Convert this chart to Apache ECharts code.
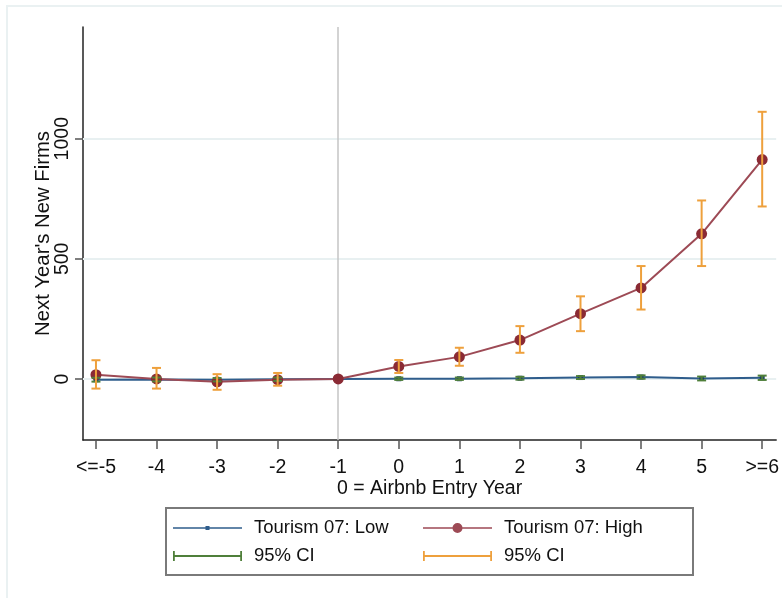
<!DOCTYPE html>
<html>
<head>
<meta charset="utf-8">
<script src="https://cdn.jsdelivr.net/npm/echarts@6/dist/echarts.min.js"></script>
<style>html,body{margin:0;padding:0;background:#fff;}#c{width:782px;height:598px;}</style>
</head>
<body>
<div id="c"></div>
<script>
const categories = ['<=-5','-4','-3','-2','-1','0','1','2','3','4','5','>=6'];
const lowValues   = [-3, -2, -3, -1, 0, 1, 1, 3, 6, 8, 2, 5];
const lowCILower  = [-11, -10, -10, -8, null, -4, -4, -3, 0, 1, -6, -4];
const lowCIUpper  = [5, 6, 4, 6, null, 6, 6, 9, 12, 15, 10, 14];
const highValues  = [18, 0, -12, -3, 0, 52, 92, 162, 272, 379, 604, 913];
const highCILower = [-40, -40, -45, -28, null, 25, 55, 109, 199, 289, 470, 718];
const highCIUpper = [78, 46, 20, 25, null, 79, 130, 220, 344, 470, 743, 1112];
const yTicks = [0, 500, 1000];
const refCategory = '-1';

const FONT = 'Liberation Sans, Arial, sans-serif';
const cLowLine = '#2f5d8c', cLowMark = '#1d3f66';
const cHighLine = '#9d4a55', cHighMark = '#8a2a34';
const cLowCI = '#4f7f3a', cHighCI = '#eea03c';

const idx = categories.map((c, i) => i);
function ciData(lo, hi) {
  return idx.filter(i => lo[i] != null && hi[i] != null).map(i => [i, lo[i], hi[i]]);
}
function ciRender(color) {
  return function (params, api) {
    const x = api.value(0);
    const pLo = api.coord([x, api.value(1)]);
    const pHi = api.coord([x, api.value(2)]);
    const w = 4.5;
    const style = { stroke: color, lineWidth: 2 };
    return { type: 'group', children: [
      { type: 'line', shape: { x1: pLo[0], y1: pLo[1], x2: pHi[0], y2: pHi[1] }, style },
      { type: 'line', shape: { x1: pLo[0] - w, y1: pLo[1], x2: pLo[0] + w, y2: pLo[1] }, style },
      { type: 'line', shape: { x1: pHi[0] - w, y1: pHi[1], x2: pHi[0] + w, y2: pHi[1] }, style }
    ]};
  };
}

const iconLow = 'path://M0,0 L0.01,0 L0,0.01 Z M0,10 L0.01,10 L0,9.99 Z M0,4.2 L69,4.2 L69,5.8 L0,5.8 Z M32.5,3 L36.5,3 L36.5,7 L32.5,7 Z';
const iconHigh = 'path://M0,4.2 L69,4.2 L69,5.8 L0,5.8 Z M34.5,0 A5,5 0 1 1 34.5,10 A5,5 0 1 1 34.5,0 Z';
const iconCI = 'path://M0,0 L1.8,0 L1.8,4.1 L67.2,4.1 L67.2,0 L69,0 L69,10 L67.2,10 L67.2,5.9 L1.8,5.9 L1.8,10 L0,10 Z';

const legendCommon = {
  orient: 'vertical', top: 518, itemWidth: 69, itemHeight: 10, itemGap: 8, padding: 0,
  selectedMode: false,
  textStyle: { fontFamily: FONT, fontSize: 18.5, color: '#111', lineHeight: 20, padding: [0, 0, 0, 7] },
  formatter: n => n.indexOf('CI') === 0 ? '95% CI' : n
};

const chart = echarts.init(document.getElementById('c'), null, { renderer: 'canvas' });
chart.setOption({
  animation: false,
  backgroundColor: '#fff',
  grid: { left: 83, right: 5, top: 27, bottom: 158, containLabel: false },
  xAxis: {
    type: 'value', min: -0.214, max: 11.231,
    name: '0 = Airbnb Entry Year', nameLocation: 'middle', nameGap: 39, nameMoveOverlap: false,
    nameTextStyle: { fontFamily: FONT, fontSize: 19.5, color: '#111' },
    axisLine: { show: true, onZero: false, lineStyle: { color: '#222', width: 1.5 } },
    axisTick: { show: true, length: 9, customValues: idx, lineStyle: { color: '#555', width: 1.5 } },
    axisLabel: { customValues: idx, formatter: v => categories[Math.round(v)], margin: 18,
      fontFamily: FONT, fontSize: 19.5, color: '#111' },
    splitLine: { show: false }
  },
  yAxis: {
    type: 'value', min: -254, max: 1465,
    name: "Next Year's New Firms", nameLocation: 'middle', nameRotate: 90, nameGap: 30, nameMoveOverlap: false,
    nameTextStyle: { fontFamily: FONT, fontSize: 20.3, color: '#111' },
    axisLine: { show: true, onZero: false, lineStyle: { color: '#222', width: 1.5 } },
    axisTick: { show: true, length: 8, customValues: yTicks, lineStyle: { color: '#555', width: 1.5 } },
    axisLabel: { customValues: yTicks, formatter: v => String(v), rotate: 90, margin: 10,
      fontFamily: FONT, fontSize: 19.5, color: '#111' },
    splitLine: { show: false }
  },
  legend: [
    Object.assign({}, legendCommon, { left: 173, data: [
      { name: 'Tourism 07: Low', icon: iconLow, itemStyle: { color: cLowLine, borderWidth: 0 } },
      { name: 'CI Low', icon: iconCI, itemStyle: { color: cLowCI, borderWidth: 0 } }
    ]}),
    Object.assign({}, legendCommon, { left: 423, data: [
      { name: 'Tourism 07: High', icon: iconHigh, itemStyle: { color: cHighLine, borderWidth: 0 } },
      { name: 'CI High', icon: iconCI, itemStyle: { color: cHighCI, borderWidth: 0 } }
    ]})
  ],
  graphic: [
    { type: 'rect', shape: { x: 7, y: 6, width: 900, height: 700 }, style: { fill: 'none', stroke: '#eaf1f2', lineWidth: 2 }, z: -10 },
    { type: 'rect', shape: { x: 166, y: 508, width: 527, height: 67 }, style: { fill: 'none', stroke: '#7a7a7a', lineWidth: 2 } }
  ],
  series: [
    {
      name: 'Tourism 07: Low', type: 'line', z: 3,
      data: idx.map(i => [i, lowValues[i]]),
      symbol: 'rect', symbolSize: 5,
      lineStyle: { color: cLowLine, width: 2 },
      itemStyle: { color: cLowMark },
      markLine: {
        silent: true, symbol: 'none', label: { show: false }, animation: false,
        data: [
          { yAxis: yTicks[0], lineStyle: { color: '#e8f0f1', width: 2, type: 'solid' } },
          { yAxis: yTicks[1], lineStyle: { color: '#e8f0f1', width: 2, type: 'solid' } },
          { yAxis: yTicks[2], lineStyle: { color: '#e8f0f1', width: 2, type: 'solid' } },
          { xAxis: categories.indexOf(refCategory), lineStyle: { color: '#c4c4c4', width: 1.5, type: 'solid' } }
        ],
        z: 1
      }
    },
    {
      name: 'Tourism 07: High', type: 'line', z: 4,
      data: idx.map(i => [i, highValues[i]]),
      symbol: 'circle', symbolSize: 11,
      lineStyle: { color: cHighLine, width: 2 },
      itemStyle: { color: cHighMark }
    },
    {
      name: 'CI Low', type: 'custom', z: 5,
      renderItem: ciRender(cLowCI),
      itemStyle: { color: cLowCI },
      data: ciData(lowCILower, lowCIUpper)
    },
    {
      name: 'CI High', type: 'custom', z: 6,
      renderItem: ciRender(cHighCI),
      itemStyle: { color: cHighCI },
      data: ciData(highCILower, highCIUpper)
    }
  ]
});
</script>
</body>
</html>
